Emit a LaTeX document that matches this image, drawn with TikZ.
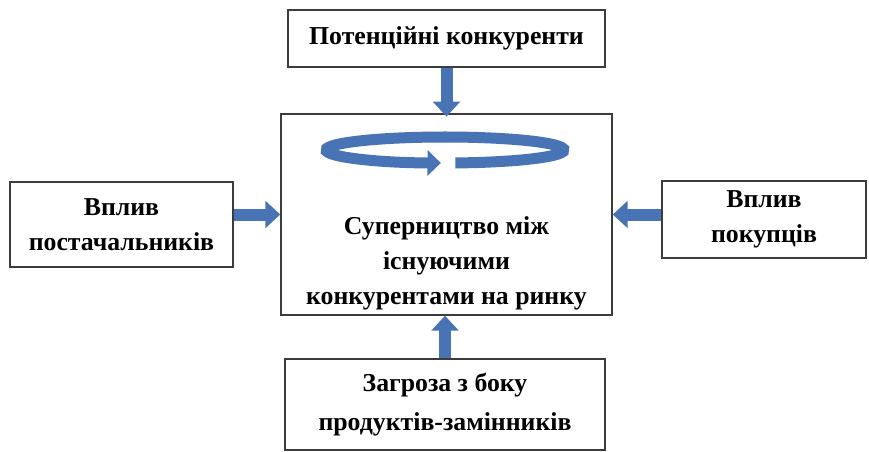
\documentclass[tikz,border=0pt]{standalone}
\usepackage{fontspec}
\setmainfont{Liberation Serif}
\usetikzlibrary{arrows.meta}

\definecolor{arrowblue}{RGB}{72,116,182}
\definecolor{boxline}{RGB}{60,60,60}

\tikzset{
    box/.style={draw=boxline, line width=1.2pt, fill=white, align=center,
                font=\bfseries\fontsize{22}{30}\selectfont},
    boxtext/.style={align=center, font=\bfseries\fontsize{22}{30}\selectfont},
    blockarrow/.style={draw=arrowblue, line width=0.36cm,
                -{Triangle[width=0.8cm, length=0.45cm]}},
    ringarrow/.style={draw=arrowblue, line width=0.33cm,
                -{Triangle[width=0.75cm, length=0.4cm]}}
}

\begin{document}
\begin{tikzpicture}[x=0.03cm, y=-0.03cm]
    \useasboundingbox (0,0) rectangle (869,452);
    \node[box, minimum width=9.51cm, minimum height=1.71cm] (top) at (446.5, 38.5) {Потенційні конкуренти};
    \node[box, minimum width=9.93cm, minimum height=6.03cm] (mid) at (446.5, 214.5) {};
    \node[boxtext] (midtext) at (446.5, 263) {Суперництво між\\існуючими\\конкурентами на ринку};
    \node[box, minimum width=6.69cm, minimum height=2.55cm] (lft) at (121.5, 224.5) {Вплив\\постачальників};
    \node[box, minimum width=6.12cm, minimum height=2.31cm] (rgt) at (764, 219.5) {Вплив\\покупців};
    \node[box, minimum width=9.6cm, minimum height=2.73cm] (bot) at (445, 404.5) {Загроза з боку\\[4pt]продуктів-замінників};
    % arrows into the middle box
    \draw[blockarrow, shorten >=-0.1cm] (top.south) -- (top.south |- mid.north);
    \draw[blockarrow] (lft.east |- mid) -- (mid.west);
    \draw[blockarrow] (rgt.west |- mid) -- (mid.east);
    \draw[blockarrow] (bot.north) -- (bot.north |- mid.south);
    % ring
    \coordinate (ringc) at (445, 150);
    \draw[ringarrow] (ringc) ++(85:119 and 13) arc[start angle=85, end angle=-268, x radius=119, y radius=13];
\end{tikzpicture}
\end{document}
